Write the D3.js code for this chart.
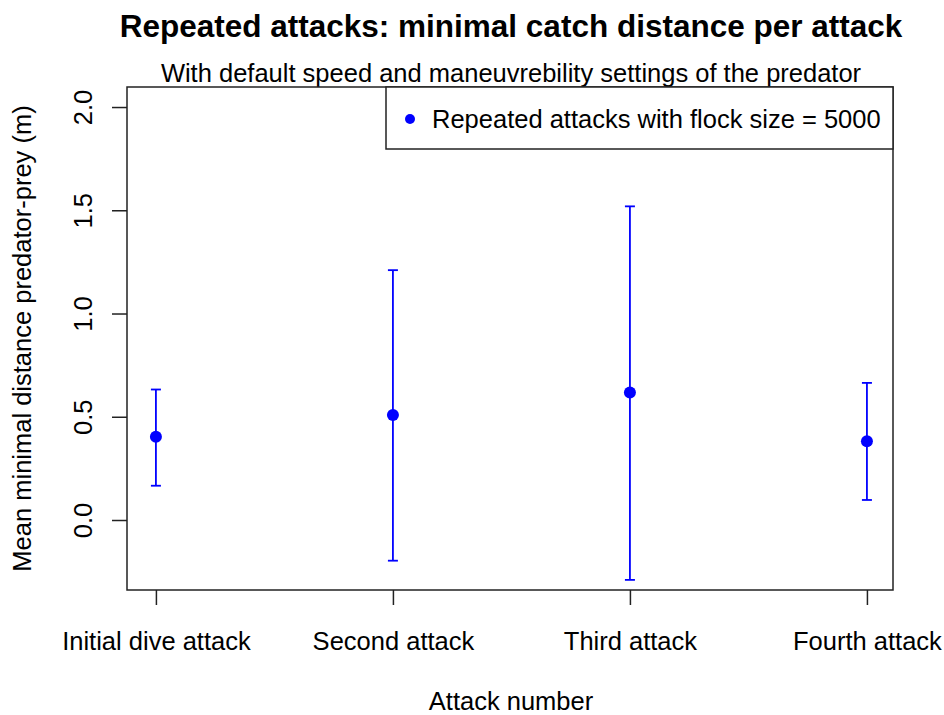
<!DOCTYPE html>
<html>
<head>
<meta charset="utf-8">
<script src="https://cdn.jsdelivr.net/npm/d3@7"></script>
<style>
  html, body { margin: 0; padding: 0; background: #fff; }
  svg { display: block; }
  text { font-family: "Liberation Sans", Arial, sans-serif; fill: #000; }
</style>
</head>
<body>
<div id="chart"></div>
<script>
// Attack sequence and summary statistics of the minimal catch distance (m)
const categories = ["Initial dive attack", "Second attack", "Third attack", "Fourth attack"];
const attackIndex = [1, 2, 3, 4];
const meanDistance = [0.403, 0.508, 0.618, 0.381];
const upperBound = [0.632, 1.210, 1.519, 0.664];
const lowerBound = [0.166, -0.197, -0.290, 0.097];
const yTicks = [0.0, 0.5, 1.0, 1.5, 2.0];

const W = 944, H = 715;
const plot = { left: 127, right: 893, top: 87, bottom: 590 };
const blue = "#0000ff";
const axisColor = "#222";
const baseFont = "25.5px";

const svg = d3.select("#chart").append("svg")
  .attr("width", W).attr("height", H);

const x = d3.scaleLinear().domain([0.878, 4.11]).range([plot.left, plot.right]);
const y = d3.scaleLinear().domain([-0.339, 2.097]).range([plot.bottom, plot.top]);

// Title and subtitle
svg.append("text")
  .attr("x", (plot.left + plot.right) / 2 + 1).attr("y", 37)
  .attr("text-anchor", "middle")
  .style("font-size", "31.5px").style("font-weight", "bold")
  .text("Repeated attacks: minimal catch distance per attack");

svg.append("text")
  .attr("x", (plot.left + plot.right) / 2 + 1).attr("y", 82)
  .attr("text-anchor", "middle")
  .style("font-size", baseFont)
  .text("With default speed and maneuvrebility settings of the predator");

// Bottom axis with category names
const xAxis = d3.axisBottom(x)
  .tickValues(attackIndex)
  .tickSize(15)
  .tickPadding(27)
  .tickFormat((d, i) => categories[i]);

const gx = svg.append("g")
  .attr("transform", `translate(0,${plot.bottom})`)
  .call(xAxis);
gx.select(".domain").remove();
gx.selectAll(".tick line").attr("stroke", axisColor).attr("stroke-width", 1.5);
gx.selectAll(".tick text")
  .style("font-size", baseFont)
  .style("font-family", "'Liberation Sans', Arial, sans-serif")
  .attr("fill", "#000");

// Left axis with rotated labels
const yAxis = d3.axisLeft(y)
  .tickValues(yTicks)
  .tickSize(15)
  .tickFormat(d3.format(".1f"));

const gy = svg.append("g")
  .attr("transform", `translate(${plot.left},0)`)
  .call(yAxis);
gy.select(".domain").remove();
gy.selectAll(".tick line").attr("stroke", axisColor).attr("stroke-width", 1.5);
gy.selectAll(".tick text")
  .style("font-size", baseFont)
  .style("font-family", "'Liberation Sans', Arial, sans-serif")
  .attr("fill", "#000")
  .attr("x", null).attr("dy", null)
  .attr("text-anchor", "middle")
  .attr("transform", "translate(-35,0) rotate(-90)");

// Plot frame
svg.append("rect")
  .attr("x", plot.left).attr("y", plot.top)
  .attr("width", plot.right - plot.left).attr("height", plot.bottom - plot.top)
  .attr("fill", "none").attr("stroke", axisColor).attr("stroke-width", 1.5);

// Axis titles
svg.append("text")
  .attr("x", (plot.left + plot.right) / 2 + 1).attr("y", 710)
  .attr("text-anchor", "middle")
  .style("font-size", baseFont)
  .text("Attack number");

svg.append("text")
  .attr("transform", `translate(31,${(plot.top + plot.bottom) / 2}) rotate(-90)`)
  .attr("text-anchor", "middle")
  .style("font-size", baseFont)
  .text("Mean minimal distance predator-prey (m)");

// Error bars and means
const rows = attackIndex.map((a, i) => ({
  a, mean: meanDistance[i], hi: upperBound[i], lo: lowerBound[i]
}));
const capHalf = 5;

const bars = svg.append("g").attr("stroke", blue).attr("stroke-width", 1.8).attr("fill", "none");
bars.selectAll("line.stem").data(rows).join("line")
  .attr("class", "stem")
  .attr("x1", d => x(d.a)).attr("x2", d => x(d.a))
  .attr("y1", d => y(d.lo)).attr("y2", d => y(d.hi));
bars.selectAll("line.capHi").data(rows).join("line")
  .attr("class", "capHi")
  .attr("x1", d => x(d.a) - capHalf).attr("x2", d => x(d.a) + capHalf)
  .attr("y1", d => y(d.hi)).attr("y2", d => y(d.hi));
bars.selectAll("line.capLo").data(rows).join("line")
  .attr("class", "capLo")
  .attr("x1", d => x(d.a) - capHalf).attr("x2", d => x(d.a) + capHalf)
  .attr("y1", d => y(d.lo)).attr("y2", d => y(d.lo));

svg.append("g").selectAll("circle").data(rows).join("circle")
  .attr("cx", d => x(d.a)).attr("cy", d => y(d.mean))
  .attr("r", 6).attr("fill", blue);

// Legend in the top-right corner of the plot
const legend = { left: 386, top: plot.top, right: plot.right, bottom: 149 };
svg.append("rect")
  .attr("x", legend.left).attr("y", legend.top)
  .attr("width", legend.right - legend.left).attr("height", legend.bottom - legend.top)
  .attr("fill", "#fff").attr("stroke", axisColor).attr("stroke-width", 1.5);
svg.append("circle")
  .attr("cx", 410).attr("cy", 119).attr("r", 5).attr("fill", blue);
svg.append("text")
  .attr("x", 432).attr("y", 128)
  .style("font-size", baseFont)
  .text("Repeated attacks with flock size = 5000");
</script>
</body>
</html>
